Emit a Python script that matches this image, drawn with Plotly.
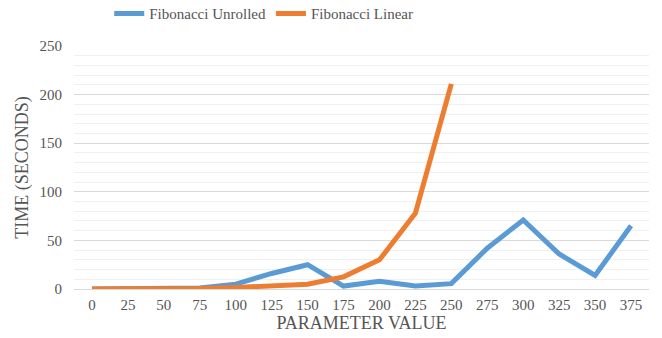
import plotly.graph_objects as go

params = ["0", "25", "50", "75", "100", "125", "150", "175", "200", "225", "250",
          "275", "300", "325", "350", "375"]
unrolled = [0, 0, 0.3, 1, 5, 16, 25, 3, 8, 3, 5.5, 42, 71, 36, 14, 65]
linear_params = params[:11]
linear = [0, 0, 0.1, 0.5, 1.5, 3, 5, 12.5, 30, 78, 211]

TXT = "#555555"
FONT = "Liberation Serif, Times New Roman, DejaVu Serif, serif"

fig = go.Figure()
fig.add_trace(go.Scatter(x=params, y=unrolled, mode="lines", name="Fibonacci Unrolled",
                         line=dict(color="#5B9BD5", width=5)))
fig.add_trace(go.Scatter(x=linear_params, y=linear, mode="lines", name="Fibonacci Linear",
                         line=dict(color="#ED7D31", width=5)))

fig.update_layout(
    width=662, height=338,
    margin=dict(l=74, r=13, t=46, b=49, autoexpand=False),
    paper_bgcolor="white", plot_bgcolor="white",
    font=dict(family=FONT, color=TXT, size=15),
    showlegend=True,
    legend=dict(orientation="h", xref="container", yref="container",
                x=0.165, xanchor="left", y=0.959, yanchor="middle",
                font=dict(family=FONT, size=15, color=TXT), itemwidth=30, tracegroupgap=0,
                bgcolor="rgba(0,0,0,0)"),
    xaxis=dict(
        type="category", categoryorder="array", categoryarray=params,
        range=[-0.5, 15.5], showgrid=False, zeroline=False, automargin=False,
        showline=False, ticks="outside", ticklen=2, tickcolor="white",
        tickfont=dict(family=FONT, size=15, color=TXT),
        title=dict(text="PARAMETER VALUE", font=dict(family=FONT, size=18, color=TXT), standoff=3),
    ),
    yaxis=dict(
        range=[0, 250], dtick=50, showgrid=True, gridcolor="#d9d9d9", gridwidth=1,
        zeroline=True, zerolinecolor="#d9d9d9", zerolinewidth=1, automargin=False,
        ticks="outside", ticklen=8, tickcolor="white",
        tickfont=dict(family=FONT, size=15, color=TXT),
        minor=dict(dtick=10, showgrid=True, gridcolor="#f0f0f0", gridwidth=1),
        title=dict(text="TIME (SECONDS)", font=dict(family=FONT, size=18, color=TXT), standoff=6),
    ),
)

fig.write_html("out.html", config={"displayModeBar": False},
               post_script="document.body.style.margin='0';")
